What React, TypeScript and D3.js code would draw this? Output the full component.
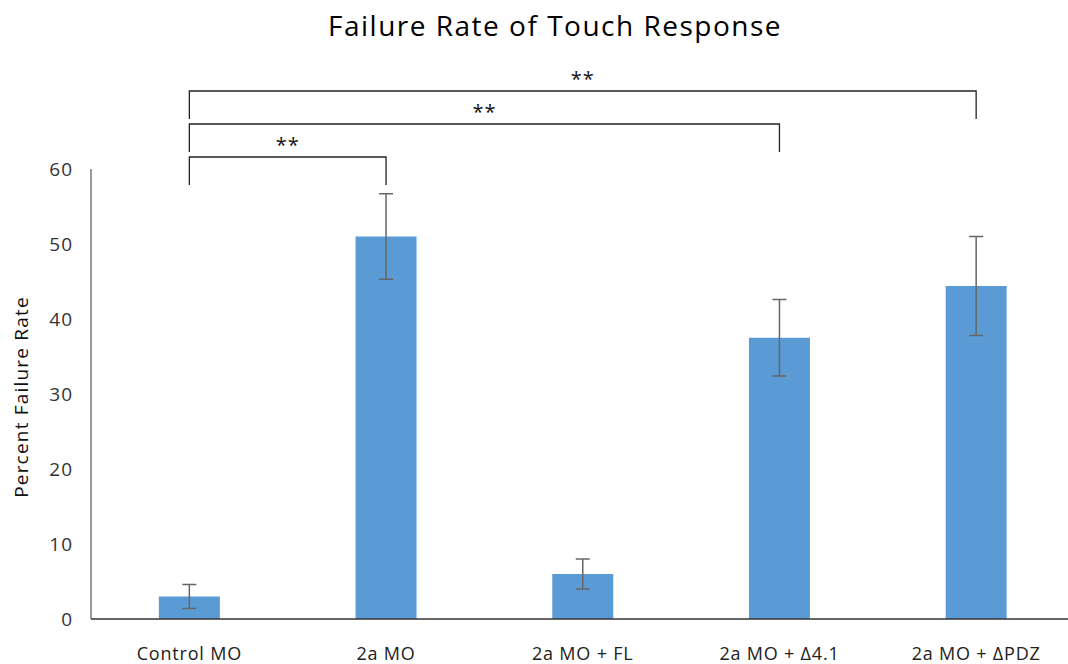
import React from "react";
import * as d3 from "d3";

const categories = ["Control MO", "2a MO", "2a MO + FL", "2a MO + \u03944.1", "2a MO + \u0394PDZ"];
const values = [3.0, 51.0, 6.0, 37.5, 44.4];
const errors = [1.6, 5.7, 2.0, 5.1, 6.6];
const yTicks = [0, 10, 20, 30, 40, 50, 60];
const brackets = [
  { from: 0, to: 1, level: 0, label: "**" },
  { from: 0, to: 3, level: 1, label: "**" },
  { from: 0, to: 4, level: 2, label: "**" },
];
const title = "Failure Rate of Touch Response";
const yLabel = "Percent Failure Rate";

const W = 1068;
const H = 664;
const FONT = "'Open Sans', 'Noto Sans', sans-serif";

export default function App() {
  const left = 91;
  const top = 169;
  const bottom = 619;
  const x = d3.scaleBand<string>().domain(categories).range([left, left + 5 * 196.7]).paddingInner(0.69).paddingOuter(0.345);
  const y = d3.scaleLinear().domain([0, 60]).range([bottom, top]);
  const bw = x.bandwidth();
  const cx = (i: number) => (x(categories[i]) as number) + bw / 2;

  return (
    <svg width={W} height={H} style={{ position: "absolute", left: 0, top: 0, background: "#fff" }} fontFamily={FONT}>
      <text x={555} y={36} textAnchor="middle" fontSize={28} letterSpacing={1.5} fill="#000">{title}</text>
      {/* bars */}
      {values.map((v, i) => (
        <rect key={"b" + i} x={x(categories[i])} y={y(v)} width={bw} height={y(0) - y(v)} fill="#5B9BD5" />
      ))}
      {/* error bars */}
      {values.map((v, i) => {
        const c = cx(i);
        const hi = y(v + errors[i]);
        const lo = y(v - errors[i]);
        return (
          <g key={"e" + i} stroke="#666" strokeWidth={1.5}>
            <line x1={c} x2={c} y1={hi} y2={lo} />
            <line x1={c - 7} x2={c + 7} y1={hi} y2={hi} />
            <line x1={c - 7} x2={c + 7} y1={lo} y2={lo} />
          </g>
        );
      })}
      {/* axes */}
      <line x1={left} x2={W} y1={bottom} y2={bottom} stroke="#333" strokeWidth={1.5} />
      <line x1={left} x2={left} y1={top} y2={bottom} stroke="#555" strokeWidth={1.2} />
      {yTicks.map((t) => (
        <text key={"t" + t} x={73} y={y(t) + 7} textAnchor="end" fontSize={19} letterSpacing={1} fill="#333">{t}</text>
      ))}
      {categories.map((c, i) => (
        <text key={"c" + i} x={cx(i)} y={660} textAnchor="middle" fontSize={18} letterSpacing={0.8} fill="#222">{c}</text>
      ))}
      <text transform={`translate(28,${(top + bottom) / 2 + 3}) rotate(-90)`} textAnchor="middle" fontSize={19} letterSpacing={1.2} fill="#111">{yLabel}</text>
      {/* significance brackets */}
      {brackets.map((b, k) => {
        const by = 157 - b.level * 33;
        const x1 = cx(b.from);
        const x2 = cx(b.to);
        const drop = 28;
        return (
          <g key={"br" + k}>
            <path d={`M${x1},${by + drop} V${by} H${x2} V${by + drop}`} fill="none" stroke="#222" strokeWidth={1.3} />
            <text x={(x1 + x2) / 2} y={by - 5} textAnchor="middle" fontSize={20} letterSpacing={1} fill="#111">{b.label}</text>
          </g>
        );
      })}
    </svg>
  );
}
